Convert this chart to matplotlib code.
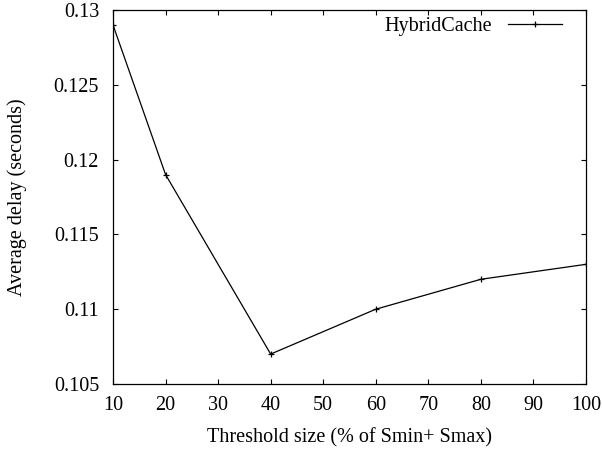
import matplotlib
matplotlib.use("Agg")
import matplotlib.pyplot as plt

threshold = [10, 20, 40, 60, 80, 100]
delay = [0.129, 0.119, 0.107, 0.110, 0.112, 0.113]
xticks = [10, 20, 30, 40, 50, 60, 70, 80, 90, 100]
yticks = [0.105, 0.11, 0.115, 0.12, 0.125, 0.13]
ytick_labels = ["0.105", "0.11", "0.115", "0.12", "0.125", "0.13"]

plt.rcParams["font.family"] = ["Liberation Serif", "DejaVu Serif"]
plt.rcParams["font.size"] = 14.5

fig = plt.figure(figsize=(6.02, 4.54), dpi=100)
ax = fig.add_axes([113 / 602, 1 - 384 / 454, 473 / 602, 374 / 454])

ax.plot(threshold, delay, color="black", lw=0.9, marker="+", ms=5,
        mew=0.9, label="HybridCache")

ax.set_xlim(10, 100)
ax.set_ylim(0.105, 0.13)
ax.set_xticks(xticks)
ax.set_yticks(yticks)
ax.set_yticklabels(ytick_labels)
ax.tick_params(direction="in", top=True, right=True, length=3.5, width=0.8)
ax.tick_params(axis="x", pad=9)
ax.tick_params(axis="y", pad=10)
for s in ax.spines.values():
    s.set_linewidth(0.9)

ax.set_xlabel("Threshold size (% of Smin+ Smax)", labelpad=9)
ax.set_ylabel("Average delay (seconds)", labelpad=19)

ax.legend(loc="upper right", bbox_to_anchor=(1 - 17 / 473, 1), frameon=False,
          markerfirst=False, handlelength=2.7, handletextpad=0.75,
          borderaxespad=0, borderpad=0.35, numpoints=1)

fig.savefig("out.png", dpi=100)
